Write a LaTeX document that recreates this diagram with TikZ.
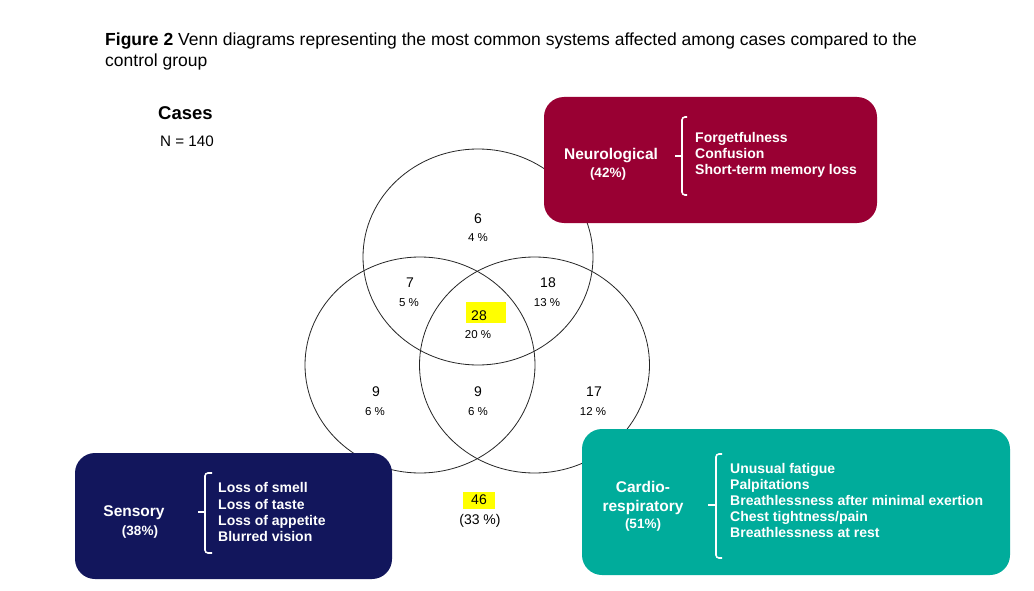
\documentclass[tikz,border=0pt]{standalone}
\usepackage{fontspec}
\setmainfont{Liberation Sans}
\definecolor{neuro}{RGB}{153,0,51}
\definecolor{senso}{RGB}{18,22,92}
\definecolor{cardio}{RGB}{0,172,155}
\definecolor{hl}{RGB}{255,255,0}
\begin{document}
\begin{tikzpicture}[x=1pt,y=-1pt,
  venn/.style={draw=black!85, line width=0.8pt},
  sysbox/.style={rectangle, rounded corners=20pt, inner sep=0pt},
  brace/.style={draw=white, line width=1.6pt, rounded corners=3pt},
  num/.style={inner sep=0pt, font=\fontsize{14}{16}\selectfont},
  pct/.style={inner sep=0pt, font=\fontsize{11.5}{13}\selectfont},
  head/.style={inner sep=0pt, anchor=base, text=white, font=\bfseries\fontsize{15.5}{18}\selectfont},
  sub/.style={inner sep=0pt, anchor=base, text=white, font=\bfseries\fontsize{13.5}{16}\selectfont},
  item/.style={inner sep=0pt, anchor=base west, text=white, font=\bfseries\fontsize{14}{16}\selectfont}]
\useasboundingbox (0,0) rectangle (1034,591);
\fill[white] (0,0) rectangle (1034,591);

% title
\node[inner sep=0pt, anchor=base west, font=\fontsize{17.5}{20}\selectfont] (t1) at (105,46)
  {\textbf{Figure 2} Venn diagrams representing the most common systems affected among cases compared to the};
\node[inner sep=0pt, anchor=base west, font=\fontsize{17.5}{20}\selectfont] (t2) at (105,67) {control group};
\node[inner sep=0pt, anchor=base west, font=\bfseries\fontsize{18.5}{20}\selectfont] (cases) at (158,120) {Cases};
\node[inner sep=0pt, anchor=base west, font=\fontsize{15.2}{17}\selectfont] (n) at (160,147) {N = 140};

% circles
\draw[venn] (478,257) ellipse [x radius=115pt, y radius=108pt];
\draw[venn] (420,365) ellipse [x radius=115pt, y radius=108pt];
\draw[venn] (534.5,365) ellipse [x radius=115pt, y radius=108pt];

% highlights
\fill[hl] (466,302) rectangle (506,323);
\fill[hl] (463,492) rectangle (495,509);

% numbers
\node[num] (a1) at (478,219) {6};    \node[pct] (p1) at (478,238) {4 \%};
\node[num] (a2) at (410,283) {7};    \node[pct] (p2) at (409,303) {5 \%};
\node[num] (a3) at (548,283) {18};   \node[pct] (p3) at (547,303) {13 \%};
\node[num] (a4) at (479,316) {28};   \node[pct] (p4) at (478,335) {20 \%};
\node[num] (a5) at (376,392) {9};    \node[pct] (p5) at (375,412) {6 \%};
\node[num] (a6) at (478,392) {9};    \node[pct] (p6) at (478,412) {6 \%};
\node[num] (a7) at (594,392) {17};   \node[pct] (p7) at (593,412) {12 \%};
\node[num] (a8) at (479,500) {46};
\node[num] (p8) at (480,521) {(33 \%)};

% boxes
\node[sysbox, fill=neuro, minimum width=333pt, minimum height=126pt] (nbox) at (710.5,160) {};
\node[sysbox, fill=senso, minimum width=317pt, minimum height=126pt] (sbox) at (233.5,516) {};
\node[sysbox, fill=cardio, minimum width=428pt, minimum height=146pt] (cbox) at (796,502) {};

% neurological
\node[head] (nh) at (611,159.3) {Neurological};
\node[sub] (ns) at (608,177.3) {(42\%)};
\draw[brace] (687,117) -- (682,117) -- (682,195) -- (687,195);
\draw[brace] (682,156) -- (675,156);
\node[item] (n1) at (695,142.3) {Forgetfulness};
\node[item] (n2) at (695,158.3) {Confusion};
\node[item] (n3) at (695,174.3) {Short-term memory loss};

% sensory
\node[head] (sh) at (134,516.7) {Sensory};
\node[sub] (ss) at (140,535) {(38\%)};
\draw[brace] (212,473) -- (205,473) -- (205,553) -- (212,553);
\draw[brace] (205,512) -- (198,512);
\node[item] (s1) at (218,492.7) {Loss of smell};
\node[item] (s2) at (218,509) {Loss of taste};
\node[item] (s3) at (218,525.3) {Loss of appetite};
\node[item] (s4) at (218,541.7) {Blurred vision};

% cardio
\node[head] (ch1) at (643,492.7) {Cardio-};
\node[head] (ch2) at (643,511) {respiratory};
\node[sub] (cs) at (643,528.5) {(51\%)};
\draw[brace] (722,454) -- (716,454) -- (716,558) -- (722,558);
\draw[brace] (716,505) -- (708,505);
\node[item] (c1) at (730,473.3) {Unusual fatigue};
\node[item] (c2) at (730,489.3) {Palpitations};
\node[item] (c3) at (730,505.5) {Breathlessness after minimal exertion};
\node[item] (c4) at (730,521.8) {Chest tightness/pain};
\node[item] (c5) at (730,537.8) {Breathlessness at rest};
\end{tikzpicture}
\end{document}
